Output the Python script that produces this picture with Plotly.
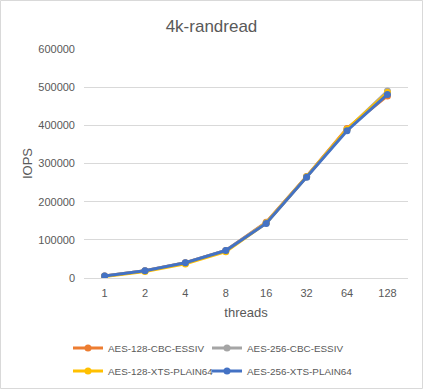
import plotly.graph_objects as go

threads = ["1", "2", "4", "8", "16", "32", "64", "128"]
aes128_cbc = [5000, 19000, 40000, 72000, 146000, 266000, 392000, 477000]
aes256_cbc = [5000, 19000, 40000, 72000, 145000, 265000, 389000, 490000]
aes128_xts = [4000, 17000, 37000, 69000, 144000, 265000, 390000, 486000]
aes256_xts = [5000, 19000, 40000, 72000, 143000, 264000, 386000, 481000]

series = [
    ("AES-128-CBC-ESSIV", aes128_cbc, "#ED7D31"),
    ("AES-256-CBC-ESSIV", aes256_cbc, "#A5A5A5"),
    ("AES-128-XTS-PLAIN64", aes128_xts, "#FFC000"),
    ("AES-256-XTS-PLAIN64", aes256_xts, "#4472C4"),
]
legend_ids = ["legend", "legend2", "legend3", "legend4"]

FONT = "Liberation Sans"
GRAY = "#595959"

fig = go.Figure()
for (name, vals, col), lg in zip(series, legend_ids):
    fig.add_trace(go.Scatter(
        x=threads, y=vals, name=name, mode="lines+markers",
        line=dict(color=col, width=3),
        marker=dict(color=col, size=7),
        legend=lg,
    ))

PW, PH = 324, 229
def px_x(p):
    return (p - 84) / PW
def px_y(p):
    return (278 - p) / PH

leg_common = dict(orientation="h", xanchor="left", yanchor="middle",
                  font=dict(size=9.9, color=GRAY), itemwidth=30,
                  bgcolor="rgba(0,0,0,0)")
leg_pos = [(68, 348), (207, 348), (68, 371), (207, 371)]
legends = {lg: dict(x=px_x(lx), y=px_y(ly), **leg_common)
           for lg, (lx, ly) in zip(legend_ids, leg_pos)}

fig.update_layout(
    width=423, height=389,
    margin=dict(l=84, r=15, t=49, b=111, autoexpand=False),
    paper_bgcolor="white", plot_bgcolor="white",
    font=dict(family=FONT, color=GRAY, size=11),
    title=dict(text="4k-randread", x=0.5, xref="container", y=1 - 26 / 389,
               yref="container", xanchor="center", yanchor="middle",
               font=dict(size=17, color=GRAY, family=FONT)),
    showlegend=True,
    shapes=[dict(type="rect", xref="paper", yref="paper",
                 x0=px_x(0.5), x1=px_x(422.5),
                 y0=px_y(388.5), y1=px_y(0.5),
                 line=dict(color="#D9D9D9", width=1), fillcolor="rgba(0,0,0,0)",
                 layer="below")],
    **legends,
)
fig.update_xaxes(type="category", showgrid=False, showline=True, linecolor="#D9D9D9",
                 linewidth=1, ticks="", ticklabelstandoff=5, automargin=False,
                 title=dict(text="threads", font=dict(size=13, color=GRAY), standoff=9),
                 tickfont=dict(size=11, color=GRAY))
fig.update_yaxes(range=[0, 600000], dtick=100000, showgrid=True, gridcolor="#D9D9D9",
                 gridwidth=1, zeroline=False, showline=False, ticks="",
                 ticklabelstandoff=8, tickformat="d", automargin=False,
                 title=dict(text="IOPS", font=dict(size=13, color=GRAY), standoff=2),
                 tickfont=dict(size=11, color=GRAY))

fig.write_html("out.html")
